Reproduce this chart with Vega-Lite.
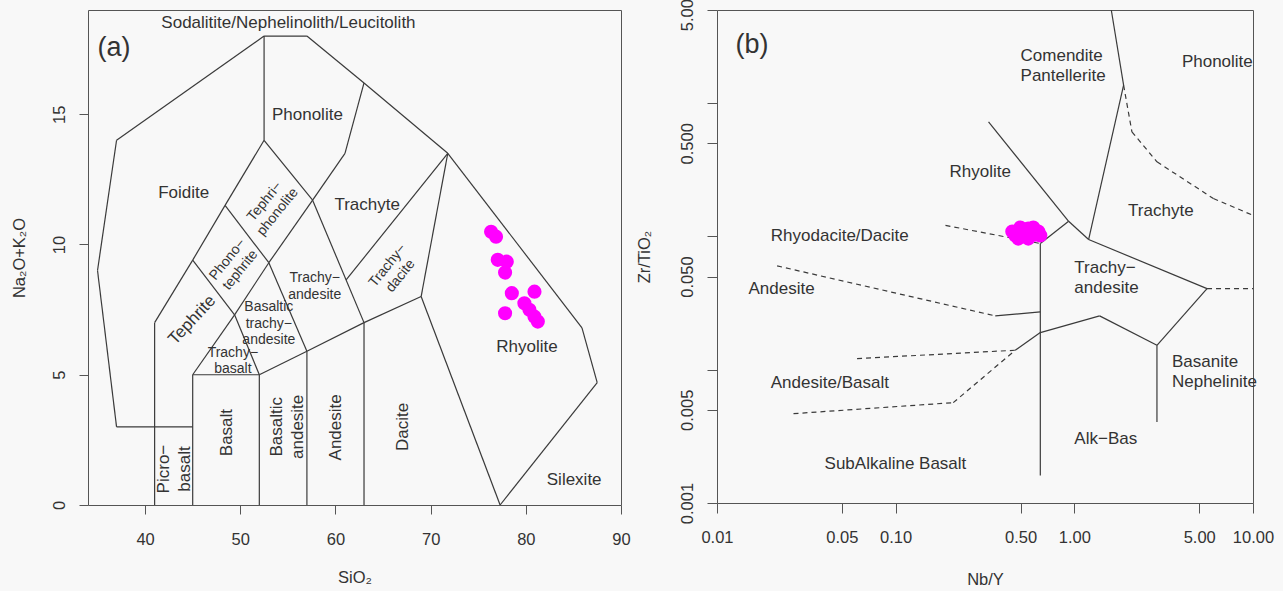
{
  "$schema": "https://vega.github.io/schema/vega-lite/v6.json",
  "autosize": {"type": "none"},
  "padding": {"left": 88, "top": 10, "right": 1195, "bottom": 581},
  "background": "#f8f8f8",
  "config": {
    "font": "Liberation Sans",
    "view": {"stroke": "#555555", "strokeWidth": 1},
    "axis": {"grid": false, "domain": false, "tickColor": "#555555", "tickWidth": 1, "labelColor": "#333333", "titleColor": "#333333", "labelFontSize": 16.5, "titleFontSize": 16.5, "titleFontWeight": "normal", "labelFont": "Liberation Sans", "titleFont": "Liberation Sans", "labelFlush": false, "labelOverlap": false},
    "text": {"font": "Liberation Sans", "color": "#333333"}
  },
  "spacing": 96,
  "bounds": "flush",
  "hconcat": [
    {
      "width": 533,
      "height": 495,
      "encoding": {
        "x": {"field": "x", "type": "quantitative", "scale": {"domain": [34, 90], "nice": false, "zero": false},
          "axis": {"values": [40, 50, 60, 70, 80, 90], "tickSize": 9, "labelPadding": 30, "labelBaseline": "alphabetic", "labelAngle": 0, "labelAlign": "center", "title": "SiO₂", "titleX": 266.5, "titleY": 77, "titleAlign": "center", "titleBaseline": "alphabetic"}},
        "y": {"field": "y", "type": "quantitative", "scale": {"domain": [0, 19], "nice": false, "zero": false},
          "axis": {"values": [0, 5, 10, 15], "tickSize": 9, "labelPadding": 14.5, "labelAngle": 270, "labelAlign": "center", "labelBaseline": "alphabetic", "title": "Na₂O+K₂O", "titleAngle": 270, "titleX": -64, "titleY": 247.5, "titleAlign": "center", "titleBaseline": "alphabetic"}}
      },
      "layer": [
        {
          "data": {"values": [
            {"x":45,"y":3,"x2":37,"y2":3},
            {"x":37,"y":3,"x2":35,"y2":9},
            {"x":35,"y":9,"x2":37,"y2":14},
            {"x":37,"y":14,"x2":52.5,"y2":18},
            {"x":52.5,"y":18,"x2":57,"y2":18},
            {"x":57,"y":18,"x2":63,"y2":16.2},
            {"x":63,"y":16.2,"x2":71.8,"y2":13.5},
            {"x":71.8,"y":13.5,"x2":85.9,"y2":6.8},
            {"x":85.9,"y":6.8,"x2":87.5,"y2":4.7},
            {"x":87.5,"y":4.7,"x2":77.3,"y2":0},
            {"x":41,"y":0,"x2":41,"y2":7},
            {"x":41,"y":7,"x2":45,"y2":9.4},
            {"x":45,"y":9.4,"x2":48.4,"y2":11.5},
            {"x":48.4,"y":11.5,"x2":52.5,"y2":14},
            {"x":52.5,"y":14,"x2":52.5,"y2":18},
            {"x":45,"y":0,"x2":45,"y2":5},
            {"x":45,"y":5,"x2":52,"y2":5},
            {"x":52,"y":0,"x2":52,"y2":5},
            {"x":52,"y":5,"x2":57,"y2":5.9},
            {"x":57,"y":5.9,"x2":63,"y2":7},
            {"x":63,"y":7,"x2":69,"y2":8},
            {"x":69,"y":8,"x2":77.3,"y2":0},
            {"x":57,"y":0,"x2":57,"y2":5.9},
            {"x":63,"y":0,"x2":63,"y2":7},
            {"x":45,"y":5,"x2":49.4,"y2":7.3},
            {"x":49.4,"y":7.3,"x2":53,"y2":9.3},
            {"x":53,"y":9.3,"x2":57.6,"y2":11.7},
            {"x":57.6,"y":11.7,"x2":61,"y2":13.5},
            {"x":61,"y":13.5,"x2":63,"y2":16.2},
            {"x":49.4,"y":7.3,"x2":52,"y2":5},
            {"x":53,"y":9.3,"x2":57,"y2":5.9},
            {"x":57.6,"y":11.7,"x2":63,"y2":7},
            {"x":45,"y":9.4,"x2":49.4,"y2":7.3},
            {"x":48.4,"y":11.5,"x2":53,"y2":9.3},
            {"x":52.5,"y":14,"x2":57.6,"y2":11.7},
            {"x":69,"y":8,"x2":71.8,"y2":13.5},
            {"x":61.12,"y":8.64,"x2":71.8,"y2":13.5}
          ]},
          "mark": {"type": "rule", "color": "#3a3a3a", "strokeWidth": 1.2},
          "encoding": {
            "x2": {"field": "x2"},
            "y2": {"field": "y2"}
          }
        },
        {
          "data": {"values": [
            {"label": "Sodalitite/Nephelinolith/Leucitolith", "x": 55.06, "y": 18.51},
            {"label": "Phonolite", "x": 57.05, "y": 14.97},
            {"label": "Foidite", "x": 44.06, "y": 11.97},
            {"label": "Trachyte", "x": 63.33, "y": 11.52},
            {"label": "Rhyolite", "x": 80.12, "y": 6.08},
            {"label": "Silexite", "x": 85.08, "y": 0.96}
          ]},
          "mark": {"type": "text", "fontSize": 17, "align": "center", "baseline": "middle"},
          "encoding": {"text": {"field": "label"}}
        },
        {
          "data": {"values": [
            {"label": "Tephrite", "x": 44.95, "y": 7.1}
          ]},
          "mark": {"type": "text", "fontSize": 17, "align": "center", "baseline": "middle", "angle": 313},
          "encoding": {"text": {"field": "label"}}
        },
        {
          "data": {"values": [
            {"label": "Tephri−\nphonolite", "x": 53.15, "y": 11.48},
            {"label": "Phono−\ntephrite", "x": 49.24, "y": 9.25},
            {"label": "Trachy−\ndacite", "x": 66.06, "y": 9.02}
          ]},
          "mark": {"type": "text", "fontSize": 14, "align": "center", "baseline": "middle", "angle": 309, "lineBreak": "\n", "lineHeight": 16.5, "dy": -7},
          "encoding": {"text": {"field": "label"}}
        },
        {
          "data": {"values": [
            {"label": "Trachy−\nandesite", "x": 57.82, "y": 8.48},
            {"label": "Trachy−\nbasalt", "x": 49.22, "y": 5.62}
          ]},
          "mark": {"type": "text", "fontSize": 14, "align": "center", "baseline": "middle", "lineBreak": "\n", "lineHeight": 16.7, "dy": -6},
          "encoding": {"text": {"field": "label"}}
        },
        {
          "data": {"values": [
            {"label": "Basaltic\ntrachy−\nandesite", "x": 53.0, "y": 6.96}
          ]},
          "mark": {"type": "text", "fontSize": 14, "align": "center", "baseline": "middle", "lineBreak": "\n", "lineHeight": 16.7, "dy": -16.7},
          "encoding": {"text": {"field": "label"}}
        },
        {
          "data": {"values": [
            {"label": "Picro−\nbasalt", "x": 43.05, "y": 1.38},
            {"label": "Basaltic\nandesite", "x": 54.98, "y": 3.0}
          ]},
          "mark": {"type": "text", "fontSize": 17, "align": "center", "baseline": "middle", "angle": 270, "lineBreak": "\n", "lineHeight": 21, "dy": -10.5},
          "encoding": {"text": {"field": "label"}}
        },
        {
          "data": {"values": [
            {"label": "Basalt", "x": 48.63, "y": 2.78},
            {"label": "Andesite", "x": 60.03, "y": 2.98},
            {"label": "Dacite", "x": 67.05, "y": 3.0}
          ]},
          "mark": {"type": "text", "fontSize": 17, "align": "center", "baseline": "middle", "angle": 270},
          "encoding": {"text": {"field": "label"}}
        },
        {
          "data": {"values": [
            {"label": "(a)", "x": 35, "y": 17.53}
          ]},
          "mark": {"type": "text", "fontSize": 27, "align": "left", "baseline": "middle"},
          "encoding": {"text": {"field": "label"}}
        },
        {
          "data": {"values": [
            {"x": 76.35, "y": 10.49},
            {"x": 76.87, "y": 10.3},
            {"x": 77.05, "y": 9.41},
            {"x": 78.0, "y": 9.34},
            {"x": 77.82, "y": 8.92},
            {"x": 78.53, "y": 8.13},
            {"x": 80.91, "y": 8.19},
            {"x": 79.85, "y": 7.74},
            {"x": 77.82, "y": 7.36},
            {"x": 80.38, "y": 7.49},
            {"x": 80.91, "y": 7.23},
            {"x": 81.26, "y": 7.04}
          ]},
          "mark": {"type": "circle", "color": "#ff00ff", "opacity": 1, "size": 200}
        }
      ]
    },
    {
      "width": 536,
      "height": 493,
      "encoding": {
        "x": {"field": "x", "type": "quantitative", "scale": {"type": "log", "domain": [0.01, 10], "nice": false, "zero": false},
          "axis": {"values": [0.01, 0.05, 0.1, 0.5, 1, 5, 10], "format": ".2f", "tickSize": 10, "labelPadding": 29, "labelBaseline": "alphabetic", "labelAngle": 0, "labelAlign": "center", "title": "Nb/Y", "titleX": 268, "titleY": 81, "titleAlign": "center", "titleBaseline": "alphabetic"}},
        "y": {"field": "y", "type": "quantitative", "scale": {"type": "log", "domain": [0.001, 5], "nice": false, "zero": false},
          "axis": {"values": [0.001, 0.005, 0.01, 0.05, 0.1, 0.5, 1, 5], "labelExpr": "(datum.value == 0.01 || datum.value == 0.1 || datum.value == 1) ? '' : format(datum.value, '.3f')", "tickSize": 10, "labelPadding": 15, "labelAngle": 270, "labelAlign": "center", "labelBaseline": "alphabetic", "title": "Zr/TiO₂", "titleAngle": 270, "titleX": -68, "titleY": 246.5, "titleAlign": "center", "titleBaseline": "alphabetic"}}
      },
      "layer": [
        {
          "data": {"values": [
            {"x":1.61,"y":5,"x2":1.887,"y2":1.365},
            {"x":1.887,"y":1.365,"x2":1.202,"y2":0.0948},
            {"x":0.331,"y":0.724,"x2":0.929,"y2":0.13},
            {"x":0.929,"y":0.13,"x2":1.202,"y2":0.0948},
            {"x":0.929,"y":0.13,"x2":0.645,"y2":0.0885},
            {"x":0.645,"y":0.0885,"x2":0.645,"y2":0.00161},
            {"x":1.202,"y":0.0948,"x2":5.53,"y2":0.0406},
            {"x":5.53,"y":0.0406,"x2":2.9,"y2":0.01525},
            {"x":2.9,"y":0.01525,"x2":2.9,"y2":0.00406},
            {"x":0.645,"y":0.019,"x2":1.385,"y2":0.02534},
            {"x":1.385,"y":0.02534,"x2":2.9,"y2":0.01525},
            {"x":0.361,"y":0.02534,"x2":0.645,"y2":0.02716},
            {"x":0.645,"y":0.019,"x2":0.467,"y2":0.014}
          ]},
          "mark": {"type": "rule", "color": "#3a3a3a", "strokeWidth": 1.2},
          "encoding": {
            "x2": {"field": "x2"},
            "y2": {"field": "y2"}
          }
        },
        {
          "data": {"values": [
            {"x":0.19,"y":0.121,"x2":0.645,"y2":0.0885},
            {"x":0.0217,"y":0.0601,"x2":0.361,"y2":0.02534},
            {"x":0.0608,"y":0.01212,"x2":0.467,"y2":0.014},
            {"x":0.0268,"y":0.00468,"x2":0.21,"y2":0.00566},
            {"x":0.21,"y":0.00566,"x2":0.467,"y2":0.014},
            {"x":1.887,"y":1.365,"x2":2.1,"y2":0.61},
            {"x":2.1,"y":0.61,"x2":2.9,"y2":0.363},
            {"x":2.9,"y":0.363,"x2":6.0,"y2":0.1925},
            {"x":6.0,"y":0.1925,"x2":10,"y2":0.144},
            {"x":5.53,"y":0.0406,"x2":10,"y2":0.0406}
          ]},
          "mark": {"type": "rule", "color": "#3a3a3a", "strokeWidth": 1.2, "strokeDash": [5, 4]},
          "encoding": {
            "x2": {"field": "x2"},
            "y2": {"field": "y2"}
          }
        },
        {
          "data": {"values": [
            {"label": "Phonolite", "x": 4.0, "y": 2.05},
            {"label": "Rhyolite", "x": 0.2, "y": 0.305},
            {"label": "Trachyte", "x": 2.0, "y": 0.1545},
            {"label": "Rhyodacite/Dacite", "x": 0.02, "y": 0.101},
            {"label": "Andesite", "x": 0.015, "y": 0.0406},
            {"label": "Andesite/Basalt", "x": 0.02, "y": 0.008},
            {"label": "SubAlkaline Basalt", "x": 0.04, "y": 0.00197},
            {"label": "Alk−Bas", "x": 1.0, "y": 0.003}
          ]},
          "mark": {"type": "text", "fontSize": 17, "align": "left", "baseline": "middle"},
          "encoding": {"text": {"field": "label"}}
        },
        {
          "data": {"values": [
            {"label": "Comendite\nPantellerite", "x": 0.5, "y": 1.97},
            {"label": "Trachy−\nandesite", "x": 1.0, "y": 0.0506},
            {"label": "Basanite\nNephelinite", "x": 3.52, "y": 0.00997}
          ]},
          "mark": {"type": "text", "fontSize": 17, "align": "left", "baseline": "middle", "lineBreak": "\n", "lineHeight": 20.5, "dy": -8},
          "encoding": {"text": {"field": "label"}}
        },
        {
          "data": {"values": [
            {"label": "(b)", "x": 0.0127, "y": 2.73}
          ]},
          "mark": {"type": "text", "fontSize": 27, "align": "left", "baseline": "middle"},
          "encoding": {"text": {"field": "label"}}
        },
        {
          "data": {"values": [
            {"x": 0.4495, "y": 0.1088},
            {"x": 0.4858, "y": 0.0964},
            {"x": 0.4983, "y": 0.1166},
            {"x": 0.5384, "y": 0.1033},
            {"x": 0.5524, "y": 0.1147},
            {"x": 0.5893, "y": 0.1166},
            {"x": 0.6286, "y": 0.1088},
            {"x": 0.6451, "y": 0.1016},
            {"x": 0.5524, "y": 0.0964},
            {"x": 0.4673, "y": 0.1016},
            {"x": 0.518, "y": 0.1088},
            {"x": 0.6047, "y": 0.1033}
          ]},
          "mark": {"type": "circle", "color": "#ff00ff", "opacity": 1, "size": 200}
        }
      ]
    }
  ]
}
